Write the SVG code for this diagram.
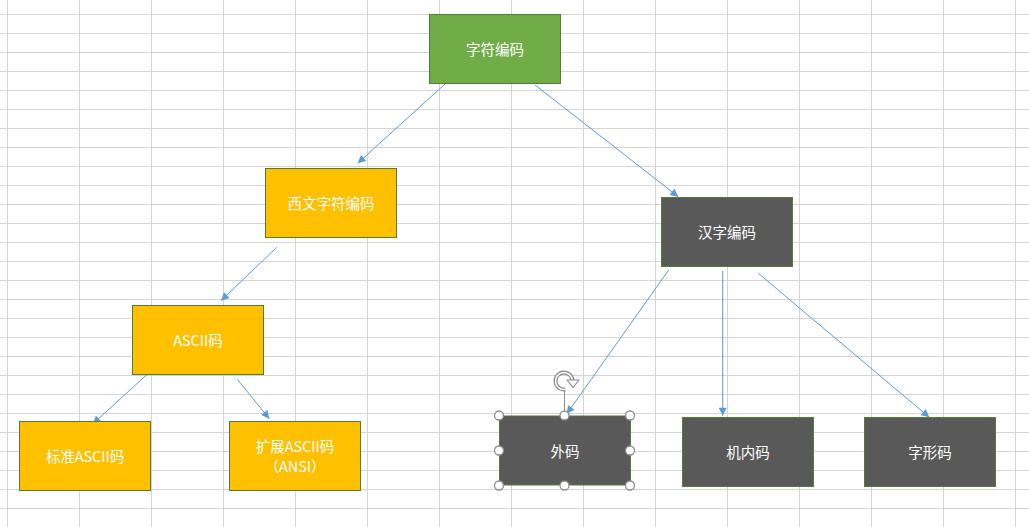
<svg xmlns="http://www.w3.org/2000/svg" width="1029" height="527" viewBox="0 0 1029 527">
<defs>
<style>
.grid line{stroke:#d4d4d4;stroke-width:1}
.box{stroke:#507e32;stroke-width:1}
.green{fill:#70ad47}
.yellow{fill:#ffc000}
.gray{fill:#595959}
.lbl{font-family:"Microsoft YaHei","Noto Sans CJK SC","Noto Sans",sans-serif;font-size:14.5px;fill:#ffffff;text-anchor:middle;dominant-baseline:central}
.conn line{stroke:#5b9bd5;stroke-width:1;fill:none;marker-end:url(#arr)}
.handle{fill:#ffffff;stroke:#8c8c8c;stroke-width:1.3}
</style>
<marker id="arr" viewBox="0 0 10 10" refX="10" refY="5" markerWidth="9" markerHeight="8" markerUnits="userSpaceOnUse" orient="auto">
<path d="M0,0 L10,5 L0,10 z" fill="#5b9bd5"/>
</marker>
</defs>
<rect width="1029" height="527" fill="#ffffff"/>
<g class="grid">
<line x1="7.5" y1="0" x2="7.5" y2="527"/>
<line x1="79.5" y1="0" x2="79.5" y2="527"/>
<line x1="151.5" y1="0" x2="151.5" y2="527"/>
<line x1="223.5" y1="0" x2="223.5" y2="527"/>
<line x1="295.5" y1="0" x2="295.5" y2="527"/>
<line x1="367.5" y1="0" x2="367.5" y2="527"/>
<line x1="439.5" y1="0" x2="439.5" y2="527"/>
<line x1="511.5" y1="0" x2="511.5" y2="527"/>
<line x1="583.5" y1="0" x2="583.5" y2="527"/>
<line x1="655.5" y1="0" x2="655.5" y2="527"/>
<line x1="727.5" y1="0" x2="727.5" y2="527"/>
<line x1="799.5" y1="0" x2="799.5" y2="527"/>
<line x1="871.5" y1="0" x2="871.5" y2="527"/>
<line x1="943.5" y1="0" x2="943.5" y2="527"/>
<line x1="1015.5" y1="0" x2="1015.5" y2="527"/>
<line x1="0" y1="14.5" x2="1029" y2="14.5"/>
<line x1="0" y1="33.5" x2="1029" y2="33.5"/>
<line x1="0" y1="52.5" x2="1029" y2="52.5"/>
<line x1="0" y1="71.5" x2="1029" y2="71.5"/>
<line x1="0" y1="90.5" x2="1029" y2="90.5"/>
<line x1="0" y1="109.5" x2="1029" y2="109.5"/>
<line x1="0" y1="128.5" x2="1029" y2="128.5"/>
<line x1="0" y1="147.5" x2="1029" y2="147.5"/>
<line x1="0" y1="166.5" x2="1029" y2="166.5"/>
<line x1="0" y1="185.5" x2="1029" y2="185.5"/>
<line x1="0" y1="204.5" x2="1029" y2="204.5"/>
<line x1="0" y1="223.5" x2="1029" y2="223.5"/>
<line x1="0" y1="242.5" x2="1029" y2="242.5"/>
<line x1="0" y1="261.5" x2="1029" y2="261.5"/>
<line x1="0" y1="280.5" x2="1029" y2="280.5"/>
<line x1="0" y1="299.5" x2="1029" y2="299.5"/>
<line x1="0" y1="318.5" x2="1029" y2="318.5"/>
<line x1="0" y1="337.5" x2="1029" y2="337.5"/>
<line x1="0" y1="356.5" x2="1029" y2="356.5"/>
<line x1="0" y1="375.5" x2="1029" y2="375.5"/>
<line x1="0" y1="394.5" x2="1029" y2="394.5"/>
<line x1="0" y1="413.5" x2="1029" y2="413.5"/>
<line x1="0" y1="432.5" x2="1029" y2="432.5"/>
<line x1="0" y1="451.5" x2="1029" y2="451.5"/>
<line x1="0" y1="470.5" x2="1029" y2="470.5"/>
<line x1="0" y1="489.5" x2="1029" y2="489.5"/>
<line x1="0" y1="508.5" x2="1029" y2="508.5"/>
</g>
<g class="conn">
<line x1="445" y1="84" x2="357.7" y2="163.3"/>
<line x1="535" y1="85" x2="678.3" y2="196.7"/>
<line x1="276.7" y1="247.3" x2="221" y2="300.7"/>
<line x1="148.3" y1="373.3" x2="92.7" y2="424"/>
<line x1="237.3" y1="379.3" x2="269.3" y2="418.7"/>
<line x1="668.7" y1="270" x2="566.7" y2="414"/>
<line x1="722.7" y1="270.7" x2="722.7" y2="415.7"/>
<line x1="758.3" y1="273.3" x2="929.3" y2="417.3"/>
</g>
<g id="node-zifubianma">
<rect class="box green" x="429.5" y="14.5" width="131" height="69"/>
<text class="lbl" x="495" y="48">字符编码</text>
</g>
<g id="node-xiwen">
<rect class="box yellow" x="265.5" y="168.5" width="131" height="69"/>
<text class="lbl" x="331" y="202">西文字符编码</text>
</g>
<g id="node-hanzi">
<rect class="box gray" x="661.5" y="197.5" width="131" height="69"/>
<text class="lbl" x="727" y="231">汉字编码</text>
</g>
<g id="node-ascii">
<rect class="box yellow" x="132.5" y="305.5" width="131" height="69"/>
<text class="lbl" x="198" y="339">ASCII码</text>
</g>
<g id="node-biaozhun">
<rect class="box yellow" x="19.5" y="421.5" width="131" height="69"/>
<text class="lbl" x="85" y="455">标准ASCII码</text>
</g>
<g id="node-kuozhan">
<rect class="box yellow" x="229.5" y="421.5" width="131" height="69"/>
<text class="lbl" x="295" y="445.5">扩展ASCII码</text>
<text class="lbl" x="295" y="465.5">（ANSI）</text>
</g>
<g id="node-waima">
<rect class="box gray" x="499.5" y="416" width="131" height="69"/>
<text class="lbl" x="565" y="450">外码</text>
<line x1="564.5" y1="390" x2="564.5" y2="416" stroke="#8c8c8c" stroke-width="1"/>
<path d="M565.5,389.4 A8.5,8.5 0 1 1 572.5,381" fill="none" stroke="#8c8c8c" stroke-width="4"/>
<path d="M565.5,389.4 A8.5,8.5 0 1 1 572.5,381" fill="none" stroke="#ffffff" stroke-width="1.6"/>
<path d="M567,380 L579,380 L573,387.5 z" fill="#ffffff" stroke="#8c8c8c" stroke-width="1.2" stroke-linejoin="round"/>
<circle class="handle" cx="499" cy="415.5" r="4.5"/>
<circle class="handle" cx="564.5" cy="415.5" r="4.5"/>
<circle class="handle" cx="630" cy="415.5" r="4.5"/>
<circle class="handle" cx="499" cy="450.5" r="4.5"/>
<circle class="handle" cx="630" cy="450.5" r="4.5"/>
<circle class="handle" cx="499" cy="485.5" r="4.5"/>
<circle class="handle" cx="564.5" cy="485.5" r="4.5"/>
<circle class="handle" cx="630" cy="485.5" r="4.5"/>
</g>
<g id="node-jineima">
<rect class="box gray" x="682.5" y="417.5" width="131" height="69"/>
<text class="lbl" x="748" y="451">机内码</text>
</g>
<g id="node-zixingma">
<rect class="box gray" x="864.5" y="417.5" width="131" height="69"/>
<text class="lbl" x="930" y="451">字形码</text>
</g>
</svg>
